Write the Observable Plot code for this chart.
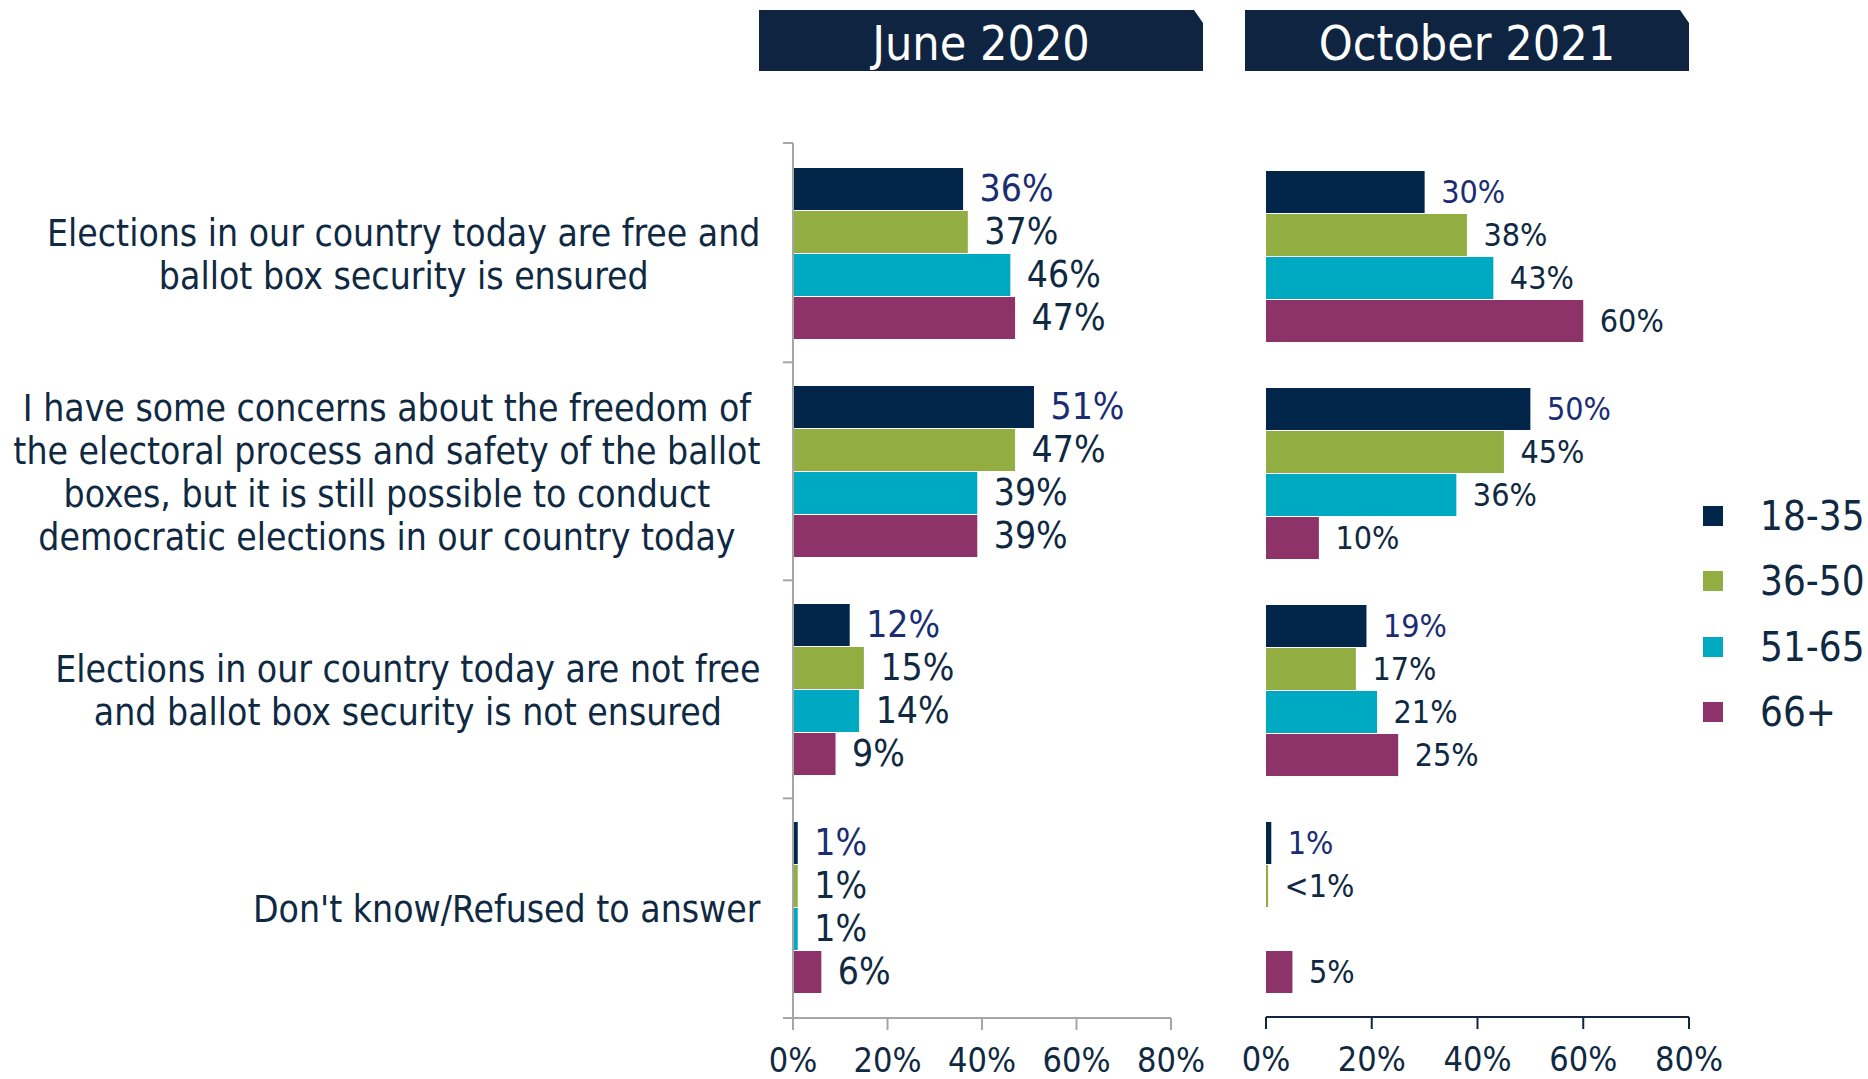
<!DOCTYPE html>
<html>
<head>
<meta charset="utf-8">
<script src="https://cdn.jsdelivr.net/npm/d3@7"></script>
<script src="https://cdn.jsdelivr.net/npm/@observablehq/plot@0.6"></script>
<style>
  html, body { margin: 0; padding: 0; background: #ffffff; }
  body { width: 1868px; height: 1079px; position: relative; overflow: hidden; }
  .hdr { position: absolute; top: 10px; height: 61px; box-sizing: border-box; padding-top: 5px; background: #0E2440; color: #ffffff;
         font-family: "Liberation Sans Narrow", "DejaVu Sans Condensed", "Roboto", sans-serif; font-size: 48px;
         display: flex; align-items: center; justify-content: center;
         clip-path: polygon(0 0, calc(100% - 9px) 0, 100% 13px, 100% 100%, 0 100%); }
  #left, #right { position: absolute; top: 0; }
  #left { left: 0; }
  #right { left: 1210px; }
  #legend { position: absolute; left: 1703px; top: 0; font-family: "DejaVu Sans Condensed", "DejaVu Sans", sans-serif;
            font-size: 40px; color: #0F2942; }
  .li { position: absolute; left: 0; display: flex; align-items: center; white-space: nowrap; height: 50px; }
  .sw { width: 20px; height: 20px; margin-right: 37px; }
</style>
</head>
<body>
<div class="hdr" style="left:759px;width:444px;">June 2020</div>
<div class="hdr" style="left:1245px;width:444px;">October 2021</div>
<div id="left"></div>
<div id="right"></div>
<div id="legend"></div>
<script>
// ---------- data ----------
const questions = [
  "Elections in our country today are free and\nballot box security is ensured",
  "I have some concerns about the freedom of\nthe electoral process and safety of the ballot\nboxes, but it is still possible to conduct\ndemocratic elections in our country today",
  "Elections in our country today are not free\nand ballot box security is not ensured",
  "Don't know/Refused to answer"
];
const ages = ["18-35", "36-50", "51-65", "66+"];
const ageColors = ["#01264A", "#92AE42", "#00A9C2", "#8D3369"];
// rows = questions, columns = age groups
const june2020 = [
  [36, 37, 46, 47],
  [51, 47, 39, 39],
  [12, 15, 14, 9],
  [1, 1, 1, 6]
];
const october2021 = [
  [30, 38, 43, 60],
  [50, 45, 36, 10],
  [19, 17, 21, 25],
  [1, 0.4, null, 5]
];
const xTicks = [0, 20, 40, 60, 80];
// ---------- end data ----------

const pctFont = '"Liberation Sans Narrow", "DejaVu Sans Condensed", "Roboto", sans-serif';
const catFont = '"DejaVu Sans Condensed", "DejaVu Sans", sans-serif';
const catSize = 37;
const darkText = "#0F2942";
const firstText = "#1A2D72";

function toRows(matrix) {
  const rows = [];
  matrix.forEach((vals, qi) => vals.forEach((v, ai) => {
    if (v != null) rows.push({q: questions[qi], age: ages[ai], value: v});
  }));
  return rows;
}
const fmt = d => d.value < 1 ? "<1%" : d.value + "%";

const canvas = document.createElement("canvas");
const ctx = canvas.getContext("2d");
function maxLineWidth(text, size, family) {
  ctx.font = `${size}px ${family}`;
  return d3.max(text.split("\n"), l => ctx.measureText(l).width);
}

function makeChart({matrix, width, marginLeft, marginRight, marginTop, marginBottom, labelSize, axisColor, leftAxis, showCats}) {
  const rows = toRows(matrix);
  const marks = [
    Plot.barX(rows, {fy: "q", y: "age", x: "value", fill: "age"}),
    Plot.text(rows.filter(d => d.age === ages[0]), {fy: "q", y: "age", x: "value", text: fmt, textAnchor: "start", dx: 16,
      fill: firstText, fontSize: labelSize, fontFamily: pctFont}),
    Plot.text(rows.filter(d => d.age !== ages[0]), {fy: "q", y: "age", x: "value", text: fmt, textAnchor: "start", dx: 16,
      fill: darkText, fontSize: labelSize, fontFamily: pctFont})
  ];
  if (showCats) {
    questions.forEach(q => {
      const w = maxLineWidth(q, catSize, catFont);
      marks.push(Plot.text([q], {fy: d => d, text: d => d, frameAnchor: "left", textAnchor: "middle",
        dx: -(33 + w / 2), lineAnchor: "middle", lineHeight: 43 / catSize,
        fontSize: catSize, fontFamily: catFont, fill: darkText}));
    });
  }
  const plot = Plot.plot({
    width, height: 1079, marginLeft, marginRight, marginTop, marginBottom,
    style: {background: "transparent", overflow: "visible"},
    x: {domain: [0, 80], axis: null},
    y: {domain: ages, axis: null, paddingInner: 0.03, paddingOuter: 0},
    fy: {domain: questions, axis: null, paddingInner: 0.208, paddingOuter: 0.11},
    color: {domain: ages, range: ageColors},
    facet: {label: null},
    marks
  });
  // axes drawn from the plot's own scales
  const xs = plot.scale("x");
  const fys = plot.scale("fy");
  const svg = d3.select(plot.tagName === "svg" ? plot : plot.querySelector("svg"));
  const yBase = 1079 - marginBottom;
  const g = svg.append("g");
  const x0 = xs.apply(0), x1 = xs.apply(80);
  g.append("line").attr("x1", leftAxis ? x0 - 10 : x0).attr("x2", x1).attr("y1", yBase).attr("y2", yBase)
    .attr("stroke", axisColor).attr("stroke-width", 2);
  xTicks.forEach(t => {
    const x = xs.apply(t);
    g.append("line").attr("x1", x).attr("x2", x).attr("y1", yBase).attr("y2", yBase + 12)
      .attr("stroke", axisColor).attr("stroke-width", 2);
    g.append("text").attr("x", x).attr("y", yBase + 44).attr("text-anchor", "middle").attr("dominant-baseline", "middle")
      .attr("font-family", pctFont).attr("font-size", 34).attr("fill", darkText).text(t + "%");
  });
  if (leftAxis) {
    const pos = questions.map(q => fys.apply(q));
    const step = pos[1] - pos[0];
    const bw = step * (1 - 0.208);
    const bounds = [marginTop, ...pos.slice(1).map(p => p - (step - bw) / 2), yBase];
    g.append("line").attr("x1", x0).attr("x2", x0).attr("y1", marginTop).attr("y2", yBase)
      .attr("stroke", axisColor).attr("stroke-width", 2);
    bounds.forEach(b => g.append("line").attr("x1", x0 - 10).attr("x2", x0).attr("y1", b).attr("y2", b)
      .attr("stroke", axisColor).attr("stroke-width", 2));
  }
  return plot;
}

document.getElementById("left").appendChild(makeChart({
  matrix: june2020, width: 1210, marginLeft: 793, marginRight: 39, marginTop: 143, marginBottom: 61,
  labelSize: 37, axisColor: "#A6A6A6", leftAxis: true, showCats: true
}));
document.getElementById("right").appendChild(makeChart({
  matrix: october2021, width: 519, marginLeft: 56, marginRight: 40, marginTop: 145, marginBottom: 62,
  labelSize: 32, axisColor: "#14253F", leftAxis: false, showCats: false
}));

// legend
const legend = d3.select("#legend");
const legendTops = [491, 556, 622, 687];
ages.forEach((a, i) => {
  const item = legend.append("div").attr("class", "li").style("top", legendTops[i] + "px");
  item.append("div").attr("class", "sw").style("background", ageColors[i]);
  item.append("span").text(a);
});
</script>
</body>
</html>
